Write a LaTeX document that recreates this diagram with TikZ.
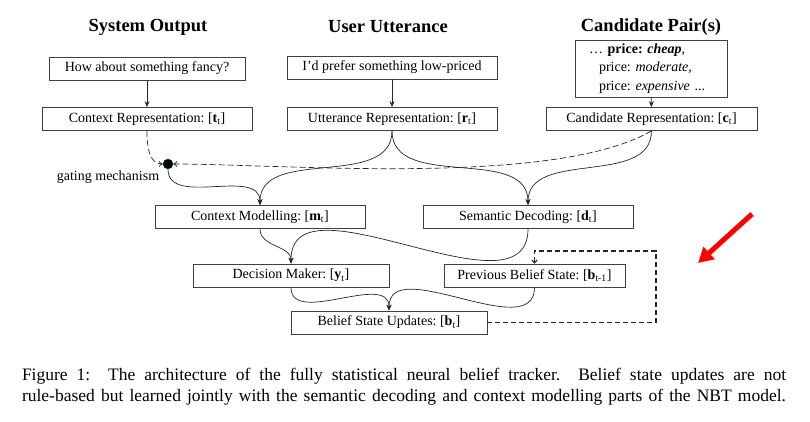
\documentclass[tikz,border=0pt]{standalone}
\usepackage{fontspec}
\setmainfont{Liberation Serif}
\frenchspacing
\usetikzlibrary{arrows.meta,positioning}
\tikzset{
    block/.style = {
        draw = black!75,
        line width = 0.8pt,
        inner sep = 0pt,
        minimum height = 23pt,
        font = \fontsize{14}{16}\selectfont,
        },
    title/.style = {
        font = \fontsize{18.5}{20}\selectfont\bfseries,
        },
    gate/.style = {
        circle,
        fill = black,
        draw = black!60!green,
        minimum size = 10pt,
        inner sep = 0pt,
        },
    flow edge/.style = {
        draw = black!85,
        line width = 0.7pt,
        -{Stealth[length=6pt,width=5pt]},
        },
    gate edge/.style = {
        draw = black!85,
        line width = 0.7pt,
        dash pattern = on 6pt off 3pt,
        -{To[length=4pt,width=6pt]},
        },
    feedback edge/.style = {
        draw = black!85,
        line width = 1.1pt,
        dash pattern = on 5pt off 3pt,
        -{To[length=4pt,width=6pt]},
        },
}

\begin{document}
\begin{tikzpicture}[x=1pt,y=1pt]
            \useasboundingbox (0,0) rectangle (810,-421);

            \node[title] (t1) at (148,-27) {System Output};
            \node[title] (t2) at (388,-27) {User Utterance};
            \node[title] (t3) at (651,-27) {Candidate Pair(s)};

            \node[block, minimum width=196pt] (sys) at (147,-68.5) {How about something fancy?};
            \node[block, minimum width=210pt] (utt) at (392,-67.5) {I'd prefer something low-priced};
            \node[block, minimum height=57pt, text width=124pt, inner xsep=14pt, align=left,
                  font=\fontsize{14}{18.5}\selectfont] (cand) at (651,-68.5)
                {\ldots\ \textbf{price: \textit{cheap}},\\
                 \hspace{10pt}price: \textit{moderate,}\\
                 \hspace{10pt}price: \textit{expensive} ...};

            \node[block, minimum width=210pt] (ctxrep) at (147,-119) {Context Representation: [\textbf{t}\textsubscript{t}]};
            \node[block, minimum width=210pt] (utrep) at (392,-119) {Utterance Representation: [\textbf{r}\textsubscript{t}]};
            \node[block, minimum width=211pt] (candrep) at (651.5,-119) {Candidate Representation: [\textbf{c}\textsubscript{t}]};

            \node[gate] (gate) at (168,-164) {};
            \node[font=\fontsize{14}{16}\selectfont] (gatelabel) at (108,-177) {gating mechanism};

            \node[block, minimum width=210pt] (ctxmod) at (260,-217) {Context Modelling: [\textbf{m}\textsubscript{t}]};
            \node[block, minimum width=210pt] (semdec) at (528,-217) {Semantic Decoding: [\textbf{d}\textsubscript{t}]};

            \node[block, minimum width=196pt] (decision) at (291,-275.5) {Decision Maker: [\textbf{y}\textsubscript{t}]};
            \node[block, minimum width=181pt] (prev) at (534.5,-275.5) {Previous Belief State: [\textbf{b}\textsubscript{t-1}]};
            \node[block, minimum width=196pt] (belief) at (389,-322.5) {Belief State Updates: [\textbf{b}\textsubscript{t}]};

            \coordinate (corner) at (656,-251);

            \path (sys) edge[flow edge] (ctxrep);
            \path (utt) edge[flow edge] (utrep);
            \path (cand) edge[flow edge] (candrep);
            \path (ctxrep.south) edge[gate edge, out=-90, in=180] (gate.west);
            \path (candrep.south) edge[gate edge, out=-150, in=0, looseness=0.6] (gate.east);
            \path (gate) edge[flow edge, out=-90, in=90] (ctxmod.north);
            \path (utrep.south) edge[flow edge, out=-90, in=90] (ctxmod.north);
            \path (utrep.south) edge[flow edge, out=-90, in=90] (semdec.north);
            \path (candrep.south) edge[flow edge, out=-90, in=90] (semdec.north);
            \path (ctxmod.south) edge[flow edge, out=-90, in=90] (decision.north);
            \path (semdec.south) edge[flow edge, out=-90, in=90] (decision.north);
            \path (decision.south) edge[flow edge, out=-90, in=90] (belief.north);
            \path (prev.south) edge[flow edge, out=-90, in=90] (belief.north);
            \draw[feedback edge] (belief.east) -| (corner) -| (prev.north);

            % annotation arrow
            \coordinate (marktail) at (752,-214);
            \coordinate (markhead) at (698,-263);
            \draw[red, line width=5pt, -{Triangle[length=15pt,width=16pt]}] (marktail) -- (markhead);

            \node[align=left, inner sep=0pt, font=\fontsize{17.5}{21}\selectfont] (caption) at (404,-387)
                {\makebox[764pt][s]{Figure 1:\ \ The architecture of the fully statistical neural belief tracker.\ \ Belief state updates are not}\\
                 \makebox[764pt][s]{rule-based but learned jointly with the semantic decoding and context modelling parts of the NBT model.}};
        \end{tikzpicture}
\end{document}
